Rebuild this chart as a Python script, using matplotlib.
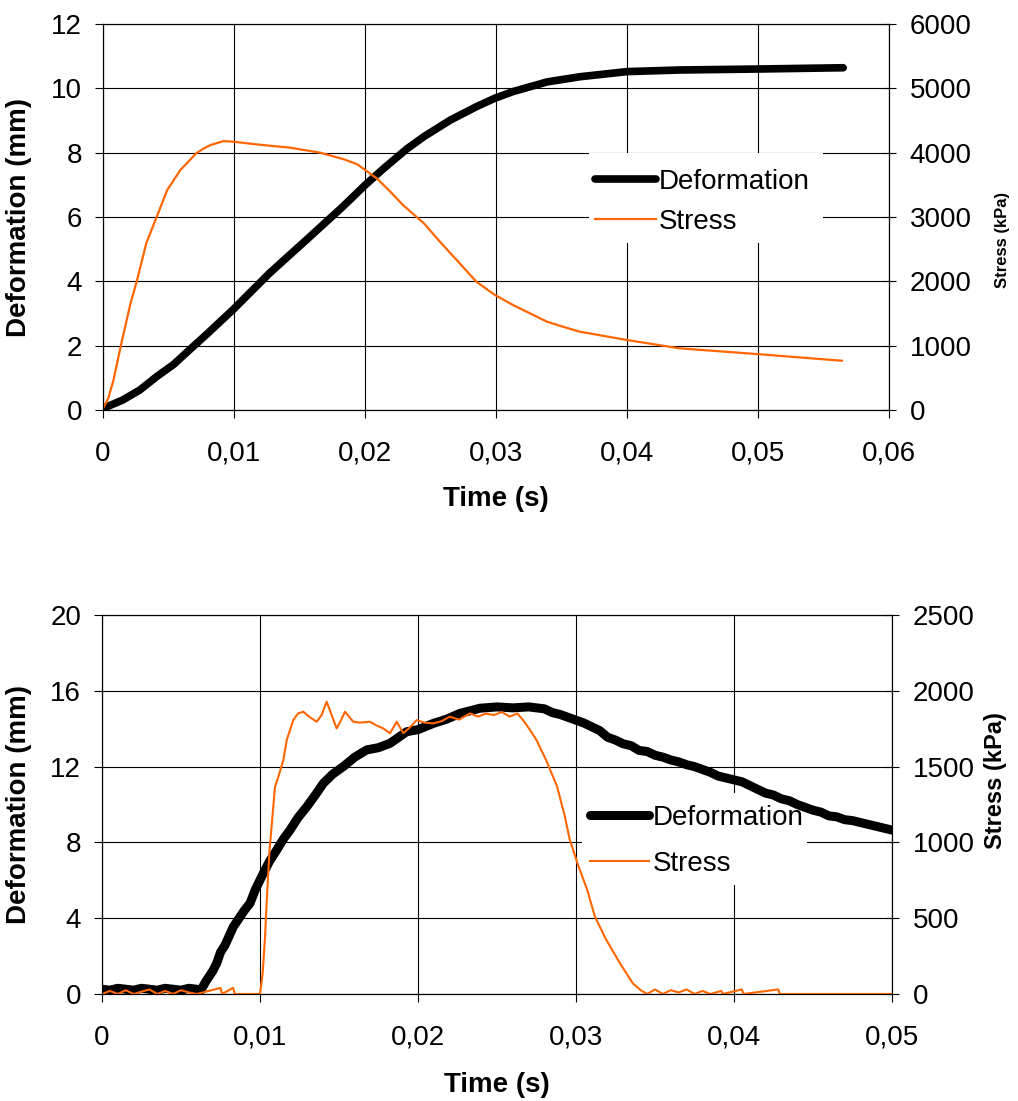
import matplotlib
matplotlib.use("Agg")
import matplotlib.pyplot as plt
from matplotlib.patches import Rectangle

plt.rcParams['font.family'] = ['Liberation Sans', 'DejaVu Sans']

ORANGE = '#FF6600'

# ---- top chart: data ----
top_def_t = [0, 0.0015, 0.0028, 0.0041, 0.0054, 0.0066, 0.0079, 0.0099, 0.0127, 0.0155,
             0.0183, 0.0200, 0.0214, 0.0232, 0.0245, 0.0265, 0.0285, 0.0299, 0.0313, 0.0339,
             0.0364, 0.0400, 0.0440, 0.0499, 0.0565]
top_def = [0.05, 0.31, 0.62, 1.04, 1.42, 1.87, 2.35, 3.11, 4.25, 5.28,
           6.32, 6.99, 7.5, 8.12, 8.5, 9.01, 9.43, 9.69, 9.9, 10.2,
           10.36, 10.52, 10.57, 10.6, 10.64]

top_str_t = [0, 0.0004, 0.0008, 0.0014, 0.0021, 0.0026, 0.0033, 0.0041, 0.0049, 0.0054,
             0.0059, 0.0064, 0.0071, 0.0077, 0.0082, 0.0092, 0.0100, 0.0117, 0.0143, 0.0166,
             0.0184, 0.0194, 0.0209, 0.0219, 0.0229, 0.0245, 0.0257, 0.0270, 0.0285, 0.0299,
             0.0313, 0.0326, 0.0339, 0.0351, 0.0364, 0.0400, 0.0440, 0.0499, 0.0564]
top_str = [25, 182, 466, 1036, 1658, 2020, 2590, 3004, 3419, 3574,
           3730, 3834, 3989, 4067, 4118, 4180, 4170, 4129, 4077, 3999,
           3896, 3820, 3600, 3400, 3186, 2901, 2620, 2331, 1994, 1790,
           1632, 1502, 1372, 1295, 1217, 1088, 959, 870, 766]

top_xticks = [0, 0.01, 0.02, 0.03, 0.04, 0.05, 0.06]
top_xlabels = ['0', '0,01', '0,02', '0,03', '0,04', '0,05', '0,06']
top_yticks = [0, 2, 4, 6, 8, 10, 12]
top_y2ticks = [0, 1000, 2000, 3000, 4000, 5000, 6000]

# ---- bottom chart: data ----
bot_def_t = [0, 0.0005, 0.001, 0.0015, 0.002, 0.0025, 0.003, 0.0035, 0.004, 0.0045,
             0.005, 0.0055, 0.006, 0.0062, 0.0066, 0.0070, 0.00726, 0.0075, 0.0078, 0.00831,
             0.0086, 0.0090, 0.00937, 0.0097, 0.01021, 0.0106, 0.01106, 0.0115, 0.0119, 0.0124,
             0.01296, 0.0135, 0.01401, 0.0146, 0.01527, 0.0160, 0.01675, 0.0175, 0.01823, 0.01928,
             0.0200, 0.02097, 0.0218, 0.02266, 0.02392, 0.0250, 0.0260, 0.0270, 0.0275, 0.0280,
             0.0285, 0.0290, 0.0295, 0.0300, 0.0305, 0.0310, 0.0315, 0.0320, 0.0325, 0.0330,
             0.0335, 0.0340, 0.0345, 0.0350, 0.0355, 0.0360, 0.0365, 0.0370, 0.0375, 0.0380,
             0.0385, 0.0390, 0.0395, 0.0400, 0.0405, 0.0410, 0.0415, 0.0420, 0.0425, 0.0430,
             0.0435, 0.0440, 0.0445, 0.0450, 0.0455, 0.0460, 0.0465, 0.0470, 0.0475, 0.0480,
             0.0485, 0.0490, 0.0495, 0.0500]
bot_def = [0.25, 0.2, 0.3, 0.25, 0.2, 0.3, 0.25, 0.2, 0.3, 0.25,
           0.2, 0.3, 0.25, 0.12, 0.7, 1.2, 1.62, 2.2, 2.6, 3.55,
           3.9, 4.4, 4.79, 5.5, 6.37, 7.0, 7.6, 8.2, 8.65, 9.3,
           9.88, 10.5, 11.12, 11.6, 12.0, 12.5, 12.88, 13.0, 13.23, 13.84,
           13.95, 14.28, 14.5, 14.81, 15.08, 15.15, 15.1, 15.15, 15.1, 15.05,
           14.85, 14.75, 14.6, 14.45, 14.3, 14.1, 13.9, 13.55, 13.4, 13.2,
           13.1, 12.85, 12.8, 12.6, 12.5, 12.35, 12.25, 12.1, 12.0, 11.85,
           11.7, 11.5, 11.4, 11.3, 11.2, 11.0, 10.8, 10.6, 10.5, 10.3,
           10.2, 10.0, 9.85, 9.7, 9.6, 9.4, 9.35, 9.2, 9.15, 9.05,
           8.95, 8.85, 8.75, 8.65]

bot_str_t = [0, 0.0005, 0.001, 0.0015, 0.002, 0.0025, 0.003, 0.0035, 0.004, 0.0045,
             0.005, 0.0055, 0.006, 0.0075, 0.0076, 0.0083, 0.0084, 0.0100, 0.01017, 0.01032,
             0.01042, 0.01059, 0.01084, 0.01095, 0.01116, 0.01148, 0.01169, 0.01211, 0.01240, 0.01274,
             0.01310, 0.01359, 0.01390, 0.01422, 0.01450, 0.01485, 0.01510, 0.01538, 0.0159, 0.0163,
             0.01696, 0.0174, 0.0178, 0.01823, 0.01865, 0.01907, 0.0195, 0.01992, 0.0204, 0.02097,
             0.0215, 0.0220, 0.0226, 0.02329, 0.0238, 0.0243, 0.0248, 0.0253, 0.0258, 0.0263,
             0.0267, 0.0271, 0.0275, 0.0281, 0.0288, 0.0293, 0.0296, 0.0301, 0.0307, 0.0312,
             0.0319, 0.0328, 0.0336, 0.0341, 0.0345, 0.0350, 0.0355, 0.0360, 0.0365, 0.0370,
             0.0375, 0.0380, 0.0385, 0.0392, 0.0393, 0.0405, 0.0406, 0.0428, 0.0429, 0.0500]
bot_str = [0, 20, 0, 25, 0, 15, 30, 0, 20, 0,
           25, 10, 0, 40, 0, 40, 0, 0, 136, 378,
           600, 928, 1236, 1367, 1433, 1543, 1675, 1807, 1850, 1862,
           1830, 1796, 1840, 1928, 1850, 1752, 1800, 1862, 1796, 1790,
           1796, 1770, 1752, 1720, 1796, 1720, 1760, 1807, 1790, 1785,
           1800, 1829, 1810, 1851, 1830, 1850, 1840, 1860, 1830, 1850,
           1800, 1740, 1675, 1545, 1370, 1170, 1020, 860, 690, 510,
           360, 200, 70, 25, 0, 30, 0, 25, 10, 30,
           0, 20, 0, 20, 0, 30, 0, 30, 0, 0]

bot_xticks = [0, 0.01, 0.02, 0.03, 0.04, 0.05]
bot_xlabels = ['0', '0,01', '0,02', '0,03', '0,04', '0,05']
bot_yticks = [0, 4, 8, 12, 16, 20]
bot_y2ticks = [0, 500, 1000, 1500, 2000, 2500]


def style_axes(ax, ax2, xticks, xlabels, yticks, y2ticks, stress_size):
    ax.set_xlim(xticks[0], xticks[-1])
    ax.set_ylim(yticks[0], yticks[-1])
    ax2.set_ylim(y2ticks[0], y2ticks[-1])
    ax.set_xticks(xticks)
    ax.set_xticklabels(xlabels)
    ax.set_yticks(yticks)
    ax2.set_yticks(y2ticks)
    ax.grid(True, color='black', linewidth=0.8)
    ax.tick_params(axis='x', labelsize=20, direction='out', length=6, width=0.8, pad=16)
    ax.tick_params(axis='y', labelsize=20, direction='out', length=6, width=0.8, pad=9)
    ax2.tick_params(axis='y', labelsize=20, direction='inout', length=10, width=0.8, pad=10)
    for a in (ax, ax2):
        for sp in a.spines.values():
            sp.set_linewidth(0.8)
    ax.set_xlabel('Time (s)', fontsize=20, fontweight='bold')
    ax.set_ylabel('Deformation (mm)', fontsize=20, fontweight='bold')
    ax2.set_ylabel('Stress (kPa)', fontsize=stress_size, fontweight='bold', rotation=90)


fig = plt.figure(figsize=(10.18, 11.01), dpi=100)

# top
ax1 = fig.add_axes([0.1012, 0.6276, 0.7721, 0.3506])
ax1b = ax1.twinx()
l1, = ax1.plot(top_def_t, top_def, color='black', lw=5.5, solid_capstyle='round',
               solid_joinstyle='round', label='Deformation', zorder=3)
l2, = ax1b.plot(top_str_t, top_str, color=ORANGE, lw=1.6, solid_joinstyle='round',
                label='Stress')
style_axes(ax1, ax1b, top_xticks, top_xlabels, top_yticks, top_y2ticks, 12)
ax1.xaxis.set_label_coords(0.5, -0.197)
ax1.yaxis.set_label_coords(-0.09, 0.5)
ax1b.yaxis.set_label_coords(1.135, 0.44)
ax1.add_patch(Rectangle((0.618, 0.433), 0.298, 0.233, transform=ax1.transAxes,
                        facecolor='white', edgecolor='none', zorder=1.8))
ax1.legend([l1, l2], ['Deformation', 'Stress'], loc='center left',
           bbox_to_anchor=(0.626, 0.539), frameon=False, fontsize=20,
           borderpad=0, borderaxespad=0, handlelength=2.2, handletextpad=0.1,
           labelspacing=0.49)

# bottom
ax2 = fig.add_axes([0.1002, 0.0972, 0.776, 0.3442])
ax2b = ax2.twinx()
m1, = ax2.plot(bot_def_t, bot_def, color='black', lw=6.5, solid_capstyle='round',
               solid_joinstyle='round', label='Deformation', zorder=6)
m2, = ax2b.plot(bot_str_t, bot_str, color=ORANGE, lw=1.5, label='Stress')
style_axes(ax2, ax2b, bot_xticks, bot_xlabels, bot_yticks, bot_y2ticks, 17)
ax2.xaxis.set_label_coords(0.5, -0.205)
ax2.yaxis.set_label_coords(-0.089, 0.5)
ax2b.yaxis.set_label_coords(1.116, 0.562)
ax2.add_patch(Rectangle((0.608, 0.288), 0.284, 0.242, transform=ax2.transAxes,
                        facecolor='white', edgecolor='none', zorder=1.8))
ax2.legend([m1, m2], ['Deformation', 'Stress'], loc='center left',
           bbox_to_anchor=(0.618, 0.404), frameon=False, fontsize=20,
           borderpad=0, borderaxespad=0, handlelength=2.1, handletextpad=0.15,
           labelspacing=0.7)

fig.savefig('out.png', dpi=100)
